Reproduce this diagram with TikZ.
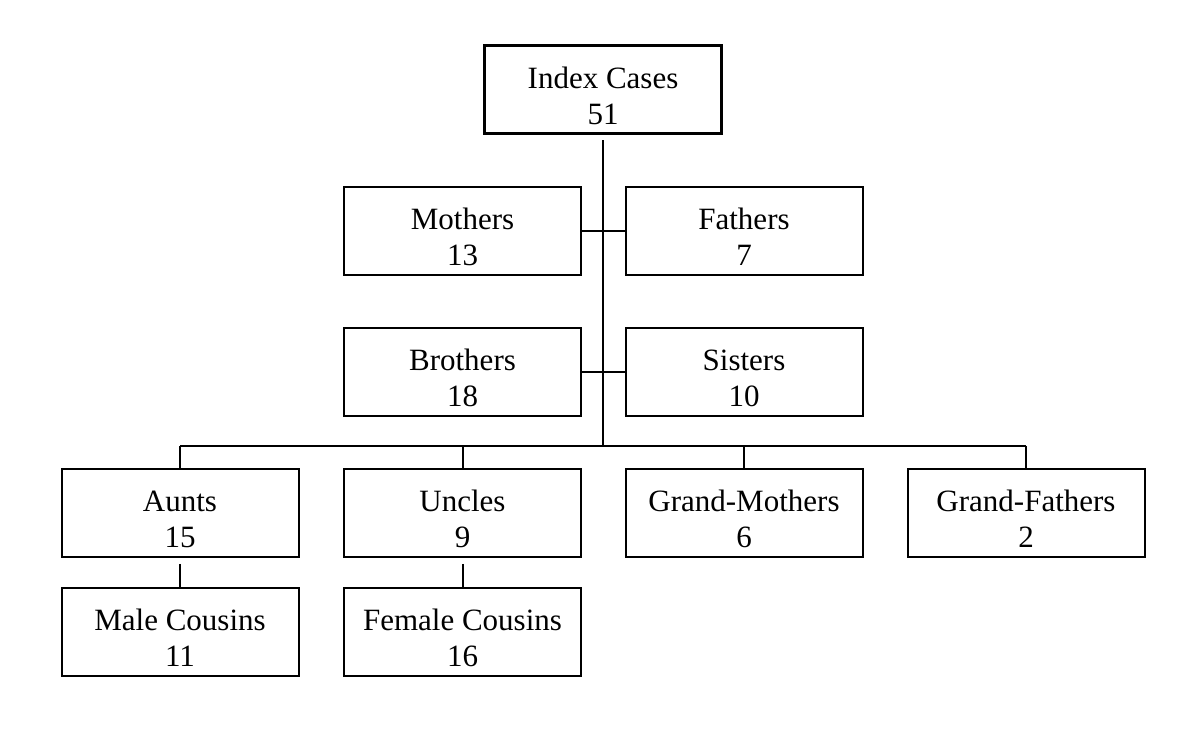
\documentclass[tikz,border=0pt]{standalone}
\usepackage{fontspec}
\setmainfont{Liberation Serif}
\usepackage{tikz}
\newcommand{\twoline}[2]{\rule{0pt}{16.5pt}#1\\#2}

\begin{document}
\begin{tikzpicture}[x=0.5pt,y=-0.5pt,
    box/.style={draw,line width=1pt,minimum width=118.5pt,minimum height=44pt,
        align=center,inner sep=0pt,font=\fontsize{15.5}{18}\selectfont},
    link/.style={line width=1pt}]
    \useasboundingbox (0,0) rectangle (1200,737);
    \node[box,line width=1.5pt] (idx) at (603,90) {\twoline{Index Cases}{51}};
    \node[box] (mo) at (462.5,231) {\twoline{Mothers}{13}};
    \node[box] (fa) at (744,231) {\twoline{Fathers}{7}};
    \node[box] (br) at (462.5,372.5) {\twoline{Brothers}{18}};
    \node[box] (si) at (744,372.5) {\twoline{Sisters}{10}};
    \node[box] (au) at (180,513) {\twoline{Aunts}{15}};
    \node[box] (un) at (462.5,513) {\twoline{Uncles}{9}};
    \node[box] (gm) at (744,513) {\twoline{Grand-Mothers}{6}};
    \node[box] (gf) at (1026,513) {\twoline{Grand-Fathers}{2}};
    \node[box] (mc) at (180,632) {\twoline{Male Cousins}{11}};
    \node[box] (fc) at (462.5,632) {\twoline{Female Cousins}{16}};
    \coordinate (bus) at (603,446);
    % trunk and sideways links
    \draw[link] ([yshift=-2.5pt]idx.south)--(bus);
    \draw[link] (mo.east)--(fa.west);
    \draw[link] (br.east)--(si.west);
    \draw[link] (au.north |- bus)--(gf.north |- bus);
    \foreach \n in {au,un,gm,gf}
        \draw[link] (\n.north |- bus)--(\n.north);
    \draw[link] ([yshift=-3pt]au.south)--(mc.north);
    \draw[link] ([yshift=-3pt]un.south)--(fc.north);
\end{tikzpicture}
\end{document}
